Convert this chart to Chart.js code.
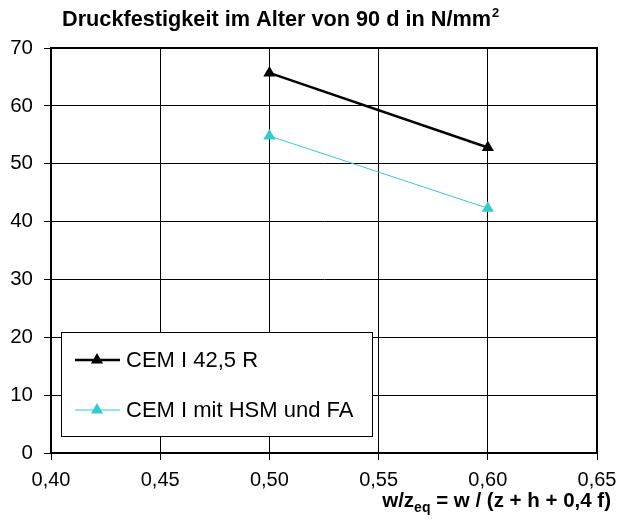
<!DOCTYPE html>
<html>
<head>
<meta charset="utf-8">
<script src="https://cdn.jsdelivr.net/npm/chart.js@4"></script>
<style>
  body { margin: 0; background: #fff; }
  #wrap { width: 622px; height: 528px; }
</style>
</head>
<body>
<div id="wrap"><canvas id="chart" width="622" height="528"></canvas></div>
<script>
// data
const wzValues = [0.50, 0.60];
const cemI425R = [65.7, 52.8];
const cemIHsmFa = [54.8, 42.3];
const seriesNames = ["CEM I 42,5 R", "CEM I mit HSM und FA"];
const xTicks = [0.40, 0.45, 0.50, 0.55, 0.60, 0.65];
const yTicks = [0, 10, 20, 30, 40, 50, 60, 70];

const FONT = "'Liberation Sans', Arial, sans-serif";

function toPoints(xs, ys) {
  return xs.map((x, i) => ({ x: x, y: ys[i] }));
}

// title + x axis title, both with sub/superscripts
const textPlugin = {
  id: "texts",
  afterDraw(chart) {
    const ctx = chart.ctx;
    ctx.save();
    ctx.fillStyle = "#000";
    ctx.textBaseline = "alphabetic";
    ctx.textAlign = "left";

    // chart title
    let x = 62, y = 26;
    ctx.font = "bold 21.7px " + FONT;
    const t1 = "Druckfestigkeit im Alter von 90 d in N/mm";
    ctx.fillText(t1, x, y);
    x += ctx.measureText(t1).width;
    ctx.font = "bold 13px " + FONT;
    ctx.fillText("2", x + 1, y - 9);

    // x axis title, right aligned
    const parts = [
      { t: "w/z", f: "bold 20.5px " + FONT, dy: 0 },
      { t: "eq", f: "bold 14px " + FONT, dy: 5 },
      { t: " = w / (z + h + 0,4 f)", f: "bold 20.5px " + FONT, dy: 0 }
    ];
    let total = 0;
    parts.forEach(p => { ctx.font = p.f; p.w = ctx.measureText(p.t).width; total += p.w; });
    x = 611 - total;
    y = 507;
    parts.forEach(p => { ctx.font = p.f; ctx.fillText(p.t, x, y + p.dy); x += p.w; });
    ctx.restore();
  }
};

// frame round the plot area + legend inside it
const framePlugin = {
  id: "frame",
  afterDatasetsDraw(chart) {
    const ctx = chart.ctx;
    const a = chart.chartArea;
    ctx.save();
    ctx.strokeStyle = "#000";
    ctx.lineWidth = 2;
    ctx.strokeRect(a.left, a.top, a.right - a.left, a.bottom - a.top);

    // legend box
    const bx = a.left + 10, by = 332, bw = 311, bh = 104;
    ctx.fillStyle = "#fff";
    ctx.fillRect(bx, by, bw, bh);
    ctx.lineWidth = 1;
    ctx.strokeRect(bx + 0.5, by + 0.5, bw, bh);

    chart.data.datasets.forEach((ds, i) => {
      const ry = 360 + i * 50;
      ctx.strokeStyle = ds.borderColor;
      ctx.lineWidth = ds.borderWidth;
      ctx.beginPath();
      ctx.moveTo(bx + 14, ry);
      ctx.lineTo(bx + 59, ry);
      ctx.stroke();
      ctx.fillStyle = ds.pointBackgroundColor;
      Chart.helpers.drawPoint(ctx, { pointStyle: "triangle", radius: 7, borderWidth: 0 }, bx + 36, ry);
      ctx.fillStyle = "#000";
      ctx.font = "22px " + FONT;
      ctx.textBaseline = "middle";
      ctx.textAlign = "left";
      ctx.fillText(ds.label, bx + 65, ry + 1);
    });
    ctx.restore();
  }
};

new Chart(document.getElementById("chart"), {
  type: "line",
  data: {
    datasets: [
      {
        label: seriesNames[0],
        data: toPoints(wzValues, cemI425R),
        borderColor: "#000000",
        backgroundColor: "#000000",
        pointBackgroundColor: "#000000",
        pointBorderWidth: 0,
        borderWidth: 2.5,
        pointStyle: "triangle",
        pointRadius: 7
      },
      {
        label: seriesNames[1],
        data: toPoints(wzValues, cemIHsmFa),
        borderColor: "#33CCCC",
        backgroundColor: "#33CCCC",
        pointBackgroundColor: "#33CCCC",
        pointBorderWidth: 0,
        borderWidth: 1,
        pointStyle: "triangle",
        pointRadius: 7
      }
    ]
  },
  options: {
    responsive: false,
    animation: false,
    layout: { padding: { top: 48, left: 0, right: 25, bottom: 0 } },
    plugins: {
      legend: { display: false },
      title: { display: false },
      tooltip: { enabled: false }
    },
    scales: {
      x: {
        type: "linear",
        min: xTicks[0],
        max: xTicks[xTicks.length - 1],
        afterBuildTicks: s => { s.ticks = xTicks.map(v => ({ value: v })); },
        afterFit: s => { s.height = 75; s.paddingLeft = 0; s.paddingRight = 0; },
        ticks: {
          callback: v => v.toFixed(2).replace(".", ","),
          font: { family: FONT, size: 20 },
          color: "#000",
          padding: 8,
          maxRotation: 0
        },
        grid: { color: "#000", lineWidth: 1, tickLength: 7, drawTicks: true },
        border: { display: true, color: "#000", width: 2 }
      },
      y: {
        min: yTicks[0],
        max: yTicks[yTicks.length - 1],
        afterBuildTicks: s => { s.ticks = yTicks.map(v => ({ value: v })); },
        afterFit: s => { s.width = 51; },
        ticks: {
          font: { family: FONT, size: 20.5 },
          color: "#000",
          padding: 11
        },
        grid: { color: "#000", lineWidth: 1, tickLength: 7, drawTicks: true },
        border: { display: true, color: "#000", width: 2 }
      }
    }
  },
  plugins: [textPlugin, framePlugin]
});
</script>
</body>
</html>
